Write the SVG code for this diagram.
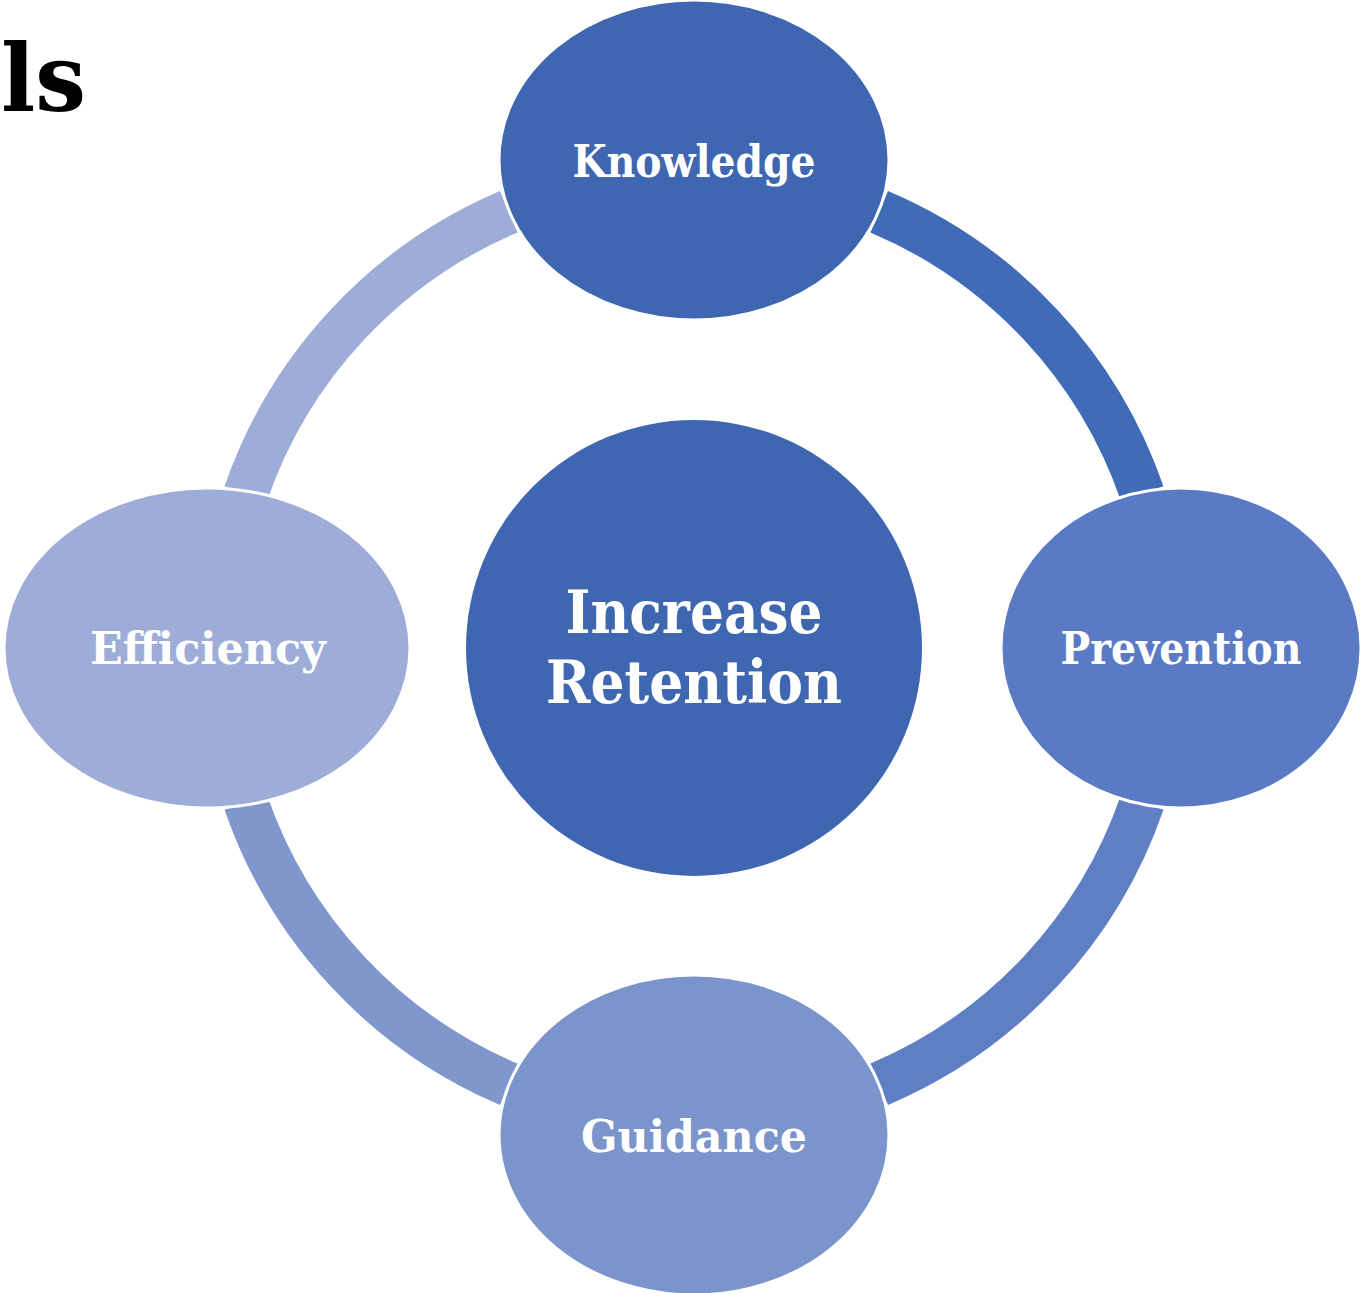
<svg xmlns="http://www.w3.org/2000/svg" width="1361" height="1293" viewBox="0 0 1361 1293">
<style>
.arc{fill:none;stroke-width:45;stroke-linecap:butt}
.node{stroke:#ffffff;stroke-width:3}
.lbl{font-family:"DejaVu Serif","Liberation Serif",serif;font-weight:bold;fill:#ffffff;text-anchor:middle}
</style>
<rect width="1361" height="1293" fill="#ffffff"/>
<text x="86" y="111" font-family="DejaVu Serif,Liberation Serif,serif" font-weight="bold" font-size="94" text-anchor="end" fill="#000000" textLength="85" lengthAdjust="spacingAndGlyphs">ls</text>
<g id="connectors">
<path class="arc" stroke="#3F6BB9" d="M879.2,211.7 A474,474 0 0 1 1142.2,493.7"/>
<path class="arc" stroke="#5F7FC5" d="M1142.2,802.3 A474,474 0 0 1 879.2,1084.3"/>
<path class="arc" stroke="#8097CE" d="M508.8,1084.3 A474,474 0 0 1 245.8,802.3"/>
<path class="arc" stroke="#9EADD8" d="M245.8,493.7 A474,474 0 0 1 508.8,211.7"/>
</g>
<g id="center">
<circle cx="694" cy="648" r="228" fill="#3F67B1"/>
<text class="lbl" x="694" y="633" font-size="60" textLength="257" lengthAdjust="spacingAndGlyphs">Increase</text>
<text class="lbl" x="694" y="703" font-size="60" textLength="296" lengthAdjust="spacingAndGlyphs">Retention</text>
</g>
<g id="knowledge">
<ellipse class="node" cx="694" cy="160" rx="195" ry="160" fill="#3F67B1"/>
<text class="lbl" x="694" y="177" font-size="44" textLength="243" lengthAdjust="spacingAndGlyphs">Knowledge</text>
</g>
<g id="prevention">
<ellipse class="node" cx="1181" cy="648" rx="180" ry="160" fill="#5A7AC3"/>
<text class="lbl" x="1181" y="664" font-size="44" textLength="241" lengthAdjust="spacingAndGlyphs">Prevention</text>
</g>
<g id="guidance">
<ellipse class="node" cx="694" cy="1135" rx="195" ry="160" fill="#7C94CC"/>
<text class="lbl" x="694" y="1152" font-size="44" textLength="226" lengthAdjust="spacingAndGlyphs">Guidance</text>
</g>
<g id="efficiency">
<ellipse class="node" cx="207" cy="648" rx="203" ry="160" fill="#9EADD8"/>
<text class="lbl" x="208" y="664" font-size="44" textLength="236" lengthAdjust="spacingAndGlyphs">Efficiency</text>
</g>
</svg>
